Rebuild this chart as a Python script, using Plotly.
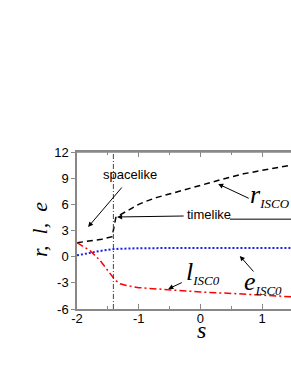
import plotly.graph_objects as go

# data
s_r = [-2, -1.8, -1.6, -1.43, -1.40, -1.37, -1.3, -1.2, -1.1, -1.0, -0.9, -0.7, -0.44, -0.2, 0, 0.32, 0.7, 1.0, 1.47]
r_isco = [1.6, 1.8, 2.0, 2.3, 3.3, 4.5, 4.8, 5.2, 5.6, 6.0, 6.3, 6.8, 7.3, 7.8, 8.2, 8.8, 9.5, 9.9, 10.5]

s_e = [-2, -1.8, -1.63, -1.4, -1.0, 0, 1.47]
e_isco = [0.15, 0.45, 0.65, 0.88, 0.97, 1.0, 1.0]

s_l = [-2, -1.9, -1.79, -1.63, -1.47, -1.38, -1.3, -1.2, -1.0, -0.5, 0, 0.6, 1.0, 1.47]
l_isco = [1.6, 1.2, 0.7, -0.4, -1.8, -2.7, -3.1, -3.3, -3.55, -3.8, -4.05, -4.25, -4.4, -4.6]

s_crit = -1.41
x_ticks = [-2, -1, 0, 1]
y_ticks = [-6, -3, 0, 3, 6, 9, 12]

fig = go.Figure()
fig.add_trace(go.Scatter(x=s_r, y=r_isco, mode="lines",
                         line=dict(color="black", width=1.5, dash="6px,4px")))
fig.add_trace(go.Scatter(x=s_e, y=e_isco, mode="lines",
                         line=dict(color="#1a1aff", width=2, dash="2px,2px")))
fig.add_trace(go.Scatter(x=s_l, y=l_isco, mode="lines",
                         line=dict(color="#ff0000", width=1.5, dash="7px,3px,2px,3px")))

fig.add_shape(type="line", xref="x", yref="paper", x0=s_crit, x1=s_crit, y0=0, y1=1,
              line=dict(color="#444", width=1, dash="5px,2px,1px,2px"))
# timelike underline to the right
fig.add_shape(type="line", xref="x", yref="y", x0=0.48, x1=1.47, y0=4.3, y1=4.3,
              line=dict(color="black", width=1))

serif = "Liberation Serif"
sans = "Liberation Sans"
W, H = 291, 376
ml, mr, mt, mb = 77, 0, 152, 67

def px(x, y):
    return (x - ml) / (W - ml - mr), 1 - (y - mt) / (H - mt - mb)

anns = []
def arrow(x, y, ax, ay):
    anns.append(dict(x=x, y=y, xref="x", yref="y", ax=ax, ay=ay, axref="pixel", ayref="pixel",
                     text="", showarrow=True, arrowhead=2, arrowsize=1, arrowwidth=1,
                     arrowcolor="black"))

arrow(-1.82, 3.4, 35, -41)       # spacelike
arrow(-1.35, 4.55, 68, -1)       # timelike
arrow(0.29, 8.33, 32, 15)        # r_ISCO
arrow(-0.52, -3.7, 15, -7)       # l_ISCO
arrow(0.64, 0.08, 15, 17)        # e_ISCO

def label(x, y, text, family, size, xanchor="center", angle=0):
    px_, py_ = px(x, y)
    anns.append(dict(x=px_, y=py_, xref="paper", yref="paper", text=text, showarrow=False,
                     xanchor=xanchor, yanchor="middle", textangle=angle,
                     font=dict(family=family, size=size, color="black")))

sub = "<sub><span style='font-size:13px'><i>%s</i></span></sub>"
label(130, 174, "spacelike", sans, 13)
label(209, 214, "timelike", sans, 13)
label(248, 195, "<i>r</i>" + sub % "ISCO", serif, 26, "left")
label(184, 272, "<i>l</i>" + sub % "ISC0", serif, 26, "left")
label(242, 282, "<i>e</i>" + sub % "ISC0", serif, 26, "left")
label(39, 230, "<i>r,  l,  e</i>", serif, 22, angle=-90)
label(201, 330, "<i>s</i>", serif, 24)

fig.update_layout(
    width=W, height=H, margin=dict(l=ml, r=mr, t=mt, b=mb),
    paper_bgcolor="white", plot_bgcolor="white", showlegend=False,
    annotations=anns,
    xaxis=dict(range=[-2, 1.47], tickvals=x_ticks, ticktext=[str(v) for v in x_ticks],
               showline=True, linecolor="#888", linewidth=1.5, mirror="ticks",
               ticks="inside", ticklen=5, tickcolor="#888", showgrid=False, zeroline=False,
               ticklabelstandoff=-3,
               minor=dict(dtick=0.5, ticks="inside", ticklen=3, tickcolor="#888"),
               tickfont=dict(family=sans, size=13, color="black")),
    yaxis=dict(range=[-6, 12], tickvals=y_ticks, ticktext=[str(v) for v in y_ticks],
               showline=True, linecolor="#888", linewidth=1.5, mirror=False,
               ticks="outside", ticklen=4, tickcolor="#888", showgrid=False, zeroline=False,
               tickfont=dict(family=sans, size=13, color="black")),
)
fig.add_shape(type="line", xref="paper", yref="paper", x0=0, x1=1, y0=1, y1=1,
              line=dict(color="#888", width=1.5))
fig.write_html("out.html", config={"displayModeBar": False},
               post_script="document.body.style.margin='0';document.body.style.padding='0';")
